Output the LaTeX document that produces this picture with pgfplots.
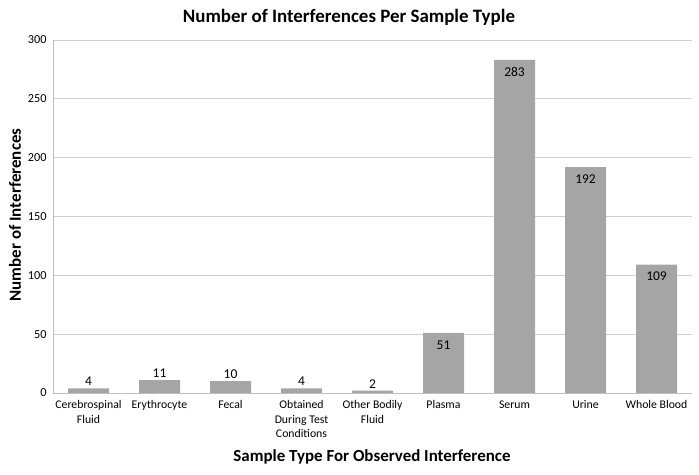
\documentclass[border=0pt]{standalone}
\usepackage{pgfplots}
\pgfplotsset{compat=1.18}
\usepackage{fontspec}
\setmainfont{Carlito}
\definecolor{barcol}{HTML}{A5A5A5}
\definecolor{gridcol}{HTML}{D0D0D0}
\definecolor{axcol}{HTML}{BFBFBF}
\begin{document}
\begin{tikzpicture}[x=1bp,y=1bp]
\path[use as bounding box] (-53,-82) rectangle (646,393);
\begin{axis}[
  at={(0,0)}, anchor=south west,
  scale only axis, width=639bp, height=353bp,
  xmin=-0.5, xmax=8.5, ymin=0, ymax=300,
  ytick distance=50,
  xtick={0,...,8},
  xticklabels={{Cerebrospinal\\Fluid},{Erythrocyte},{Fecal},{Obtained\\During Test\\Conditions},{Other Bodily\\Fluid},{Plasma},{Serum},{Urine},{Whole Blood}},
  xticklabel style={align=center, font=\fontsize{11.8}{14.5}\selectfont, text=black, yshift=-4bp},
  yticklabel style={font=\fontsize{12.3}{14}\selectfont, text=black, xshift=-3bp},
  /pgf/number format/assume math mode=true,
  axis x line*=bottom, axis y line*=left,
  axis line style={axcol, line width=0.8pt},
  major tick length=0pt,
  ymajorgrids, grid style={gridcol, line width=0.8pt},
  ybar, bar width=41bp,
  enlargelimits=false,
  clip=false,
]
\addplot[fill=barcol, draw=none, bar shift=0pt,
  nodes near coords, nodes near coords align={vertical},
  every node near coord/.append style={font=\fontsize{13.5}{15}\selectfont, text=black, yshift=-1bp}]
  coordinates {(0,4) (1,11) (2,10) (3,4) (4,2)};
\addplot[fill=barcol, draw=none, bar shift=0pt,
  nodes near coords,
  every node near coord/.append style={font=\fontsize{13.5}{15}\selectfont, text=black, anchor=north, yshift=-4bp}]
  coordinates {(5,51) (6,283) (7,192) (8,109)};
\end{axis}
\node[font=\bfseries\fontsize{19}{22}\selectfont] at (296,376) {Number of Interferences Per Sample Typle};
\node[font=\bfseries\fontsize{17}{20}\selectfont] at (319,-64) {Sample Type For Observed Interference};
\node[font=\bfseries\fontsize{17}{20}\selectfont, rotate=90] at (-38,178) {Number of Interferences};
\end{tikzpicture}
\end{document}
